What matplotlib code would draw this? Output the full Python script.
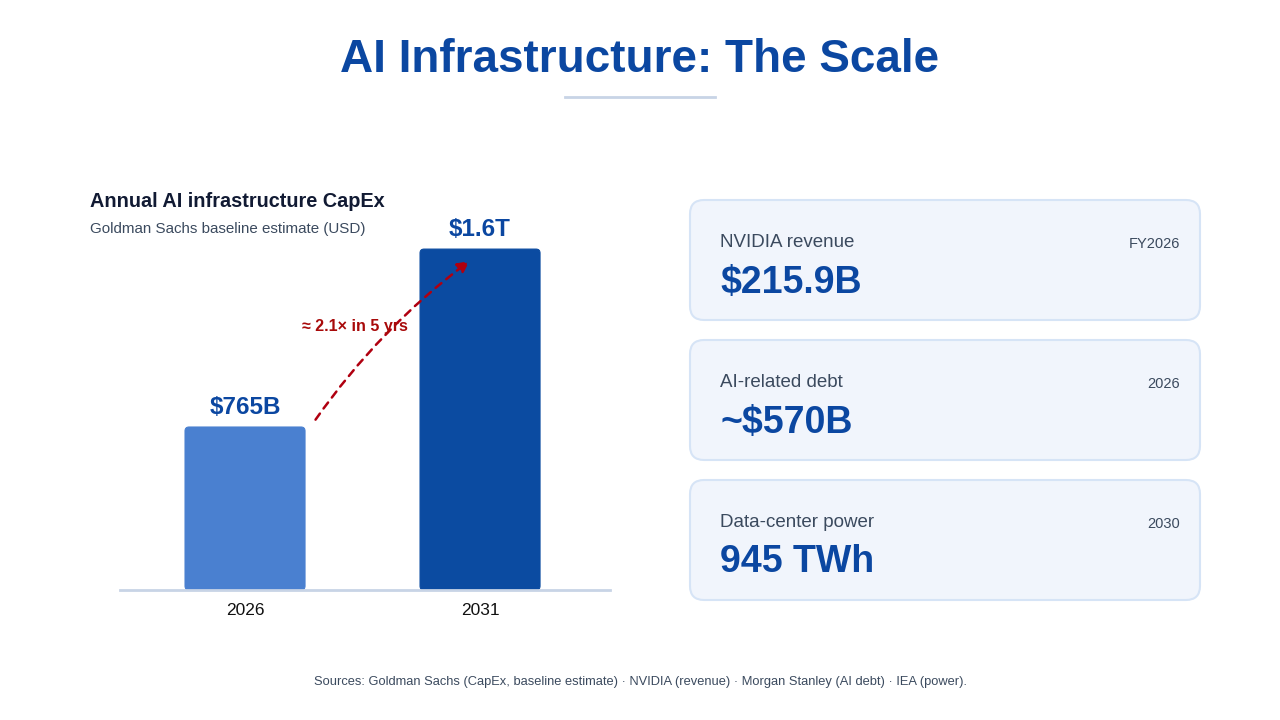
import numpy as np
import matplotlib.pyplot as plt
from matplotlib.patches import FancyBboxPatch

plt.rcParams['font.family'] = ['Liberation Sans', 'DejaVu Sans']

# ---- data ----
years = ["2026", "2031"]
capex = [765, 1600]          # USD billions
capex_labels = ["$765B", "$1.6T"]
bar_colors = ["#4a80d0", "#0b4ba1"]

card_titles = ["NVIDIA revenue", "AI-related debt", "Data-center power"]
card_values = ["$215.9B", "~$570B", "945 TWh"]
card_years = ["FY2026", "2026", "2030"]

W, H = 1280, 720
BLUE = "#0b47a1"
GREY = "#3b4a5e"

fig = plt.figure(figsize=(12.8, 7.2), dpi=100)
fig.patch.set_facecolor("white")


def fx(px):
    return px / W


def fy(py):
    return 1 - py / H


# text centres come out ~2-3px high with va=center, so nudge them down
def ty(py):
    return fy(py + 2.5)


# title + small rule under it
fig.text(0.5, ty(58), "AI Infrastructure: The Scale", ha="center", va="center",
         fontsize=33, fontweight="bold", color=BLUE)
fig.add_artist(plt.Line2D([fx(565), fx(715)], [fy(97), fy(97)], color="#c8d4e6", lw=2))

# left panel headings
fig.text(fx(90), ty(199), "Annual AI infrastructure CapEx", ha="left", va="center",
         fontsize=14.3, fontweight="bold", color="#111a33")
fig.text(fx(90), ty(227), "Goldman Sachs baseline estimate (USD)", ha="left", va="center",
         fontsize=10.9, color=GREY)

# bar chart axes: baseline at y=590px, x span 120..610px
ymax = 1700
px_per_unit = 163 / 765
ax_h = ymax * px_per_unit
ax = fig.add_axes([fx(120), fy(590), fx(490), ax_h / H])
ax.set_xlim(-0.532, 1.553)
ax.set_ylim(0, ymax)
ax.axis("off")

xpos = np.arange(len(years))
bw = 120 / 235
bars = ax.bar(xpos, capex, width=bw, color=bar_colors)
# swap the plain rectangles for rounded ones
x_per_px = 1 / 235
y_per_px = 1 / px_per_unit
for b, c in zip(bars, bar_colors):
    b.set_visible(False)
    rp = FancyBboxPatch((b.get_x(), b.get_y()), b.get_width(), b.get_height(),
                        boxstyle=f"round,pad=0,rounding_size={4 * x_per_px}",
                        mutation_aspect=y_per_px / x_per_px,
                        facecolor=c, edgecolor=c, lw=0.8, zorder=2)
    ax.add_patch(rp)

ax.axhline(0, color="#c8d4e6", lw=2, zorder=3, clip_on=False)

for i, (v, lab) in enumerate(zip(capex, capex_labels)):
    ax.annotate(lab, (xpos[i], v), xytext=(0, 14.3), textcoords="offset points",
                ha="center", va="center", fontsize=17.5, fontweight="bold", color=BLUE)
    ax.annotate(years[i], (xpos[i], 0), xytext=(0, -14.5), textcoords="offset points",
                ha="center", va="center", fontsize=12.5, color="#111111")

# growth arrow
ax.annotate("", xy=(xpos[1] - 0.045, capex[1] * 0.965), xytext=(xpos[0] + 0.3, capex[0] * 1.045),
            arrowprops=dict(arrowstyle="-|>,head_length=0.7,head_width=0.35", color="#b00010",
                            lw=1.8, linestyle=(0, (3, 2.5)), connectionstyle="arc3,rad=-0.08",
                            shrinkA=0, shrinkB=0), zorder=4)
fig.text(fx(355), ty(324), "≈ 2.1× in 5 yrs", ha="center", va="center",
         fontsize=11.5, fontweight="bold", color="#a80a0a", zorder=5)

# stat cards on the right
card_tops = [200, 340, 480]
for top, t, v, yr in zip(card_tops, card_titles, card_values, card_years):
    box = FancyBboxPatch((fx(690), fy(top + 120)), fx(510), 120 / H,
                         boxstyle=f"round,pad=0,rounding_size={14 / W}",
                         mutation_aspect=W / H, transform=fig.transFigure,
                         facecolor="#f1f5fc", edgecolor="#d6e4f6", lw=1.5)
    fig.add_artist(box)
    fig.text(fx(720), ty(top + 40), t, ha="left", va="center", fontsize=13.5, color=GREY)
    fig.text(fx(1180), ty(top + 41), yr, ha="right", va="center", fontsize=10.5, color=GREY)
    fig.text(fx(720), ty(top + 80), v, ha="left", va="center", fontsize=27,
             fontweight="bold", color=BLUE)

fig.text(0.5, ty(679),
         "Sources: Goldman Sachs (CapEx, baseline estimate) · NVIDIA (revenue) · "
         "Morgan Stanley (AI debt) · IEA (power).",
         ha="center", va="center", fontsize=9.25, color=GREY)

fig.savefig("out.png", dpi=100, facecolor="white")
